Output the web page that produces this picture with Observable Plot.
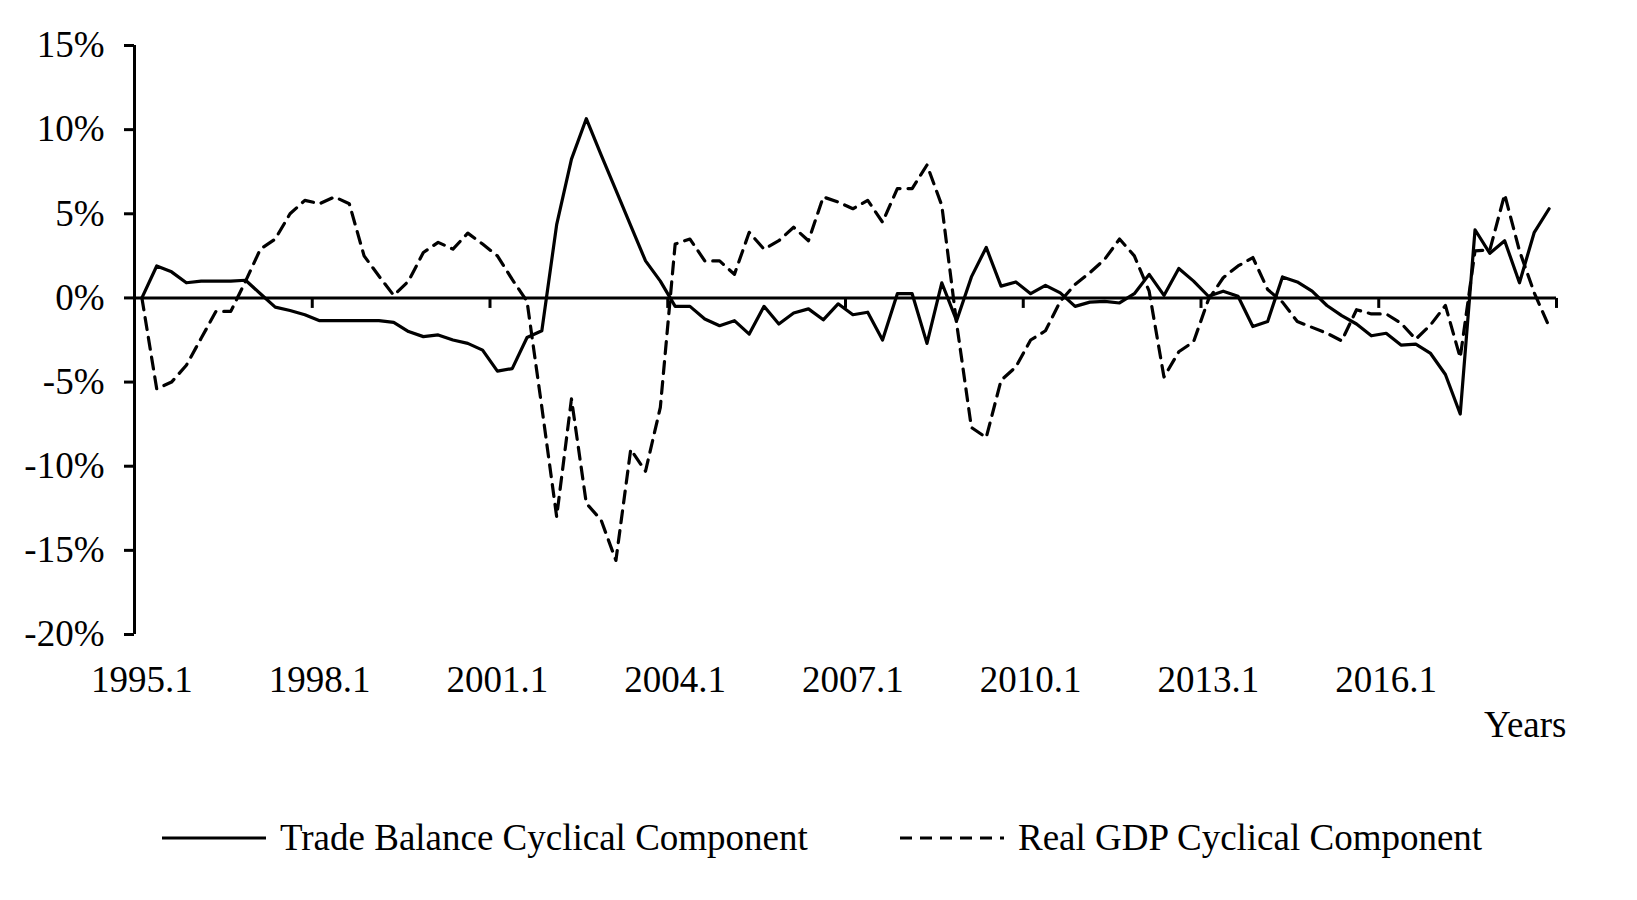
<!DOCTYPE html>
<html>
<head>
<meta charset="utf-8">
<script src="https://cdn.jsdelivr.net/npm/d3@7"></script>
<script src="https://cdn.jsdelivr.net/npm/@observablehq/plot@0.6"></script>
<style>
  body { margin: 0; background: #fff; }
  #wrap { position: relative; width: 1637px; height: 900px; background: #fff;
          font-family: "Liberation Serif", "Times New Roman", serif; color: #000; }
  #chart svg { display: block; }
  .leg-text { position: absolute; font-size: 37px; line-height: 44px; white-space: nowrap; }
  #legsvg { position: absolute; left: 0; top: 818px; }
</style>
</head>
<body>
<div id="wrap">
  <div id="chart"></div>
  <svg id="legsvg" width="1637" height="40"></svg>
  <div class="leg-text" id="leg1" style="left:280px; top:816px;"></div>
  <div class="leg-text" id="leg2" style="left:1018px; top:816px;"></div>
</div>
<script>
// ---- data ----
const firstYear = 1995;
const lastYear = 2018;
const quarters = [];
for (let y = firstYear; y <= lastYear; y++) for (let q = 1; q <= 4; q++) quarters.push(`${y}.${q}`);

const tickLabels = ["1995.1", "1998.1", "2001.1", "2004.1", "2007.1", "2010.1", "2013.1", "2016.1"];
const yTicks = [0.15, 0.10, 0.05, 0, -0.05, -0.10, -0.15, -0.20];
const seriesNames = ["Trade Balance Cyclical Component", "Real GDP Cyclical Component"];
const xTitle = "Years";

// Trade balance cyclical component (%)
const tradeBalance = [
  0, 1.9, 1.55, 0.9, 1.0, 1.0, 1.0, 1.05, 0.25, -0.55,
  -0.75, -1.0, -1.35, -1.35, -1.35, -1.35, -1.35, -1.45, -2.0, -2.3,
  -2.2, -2.5, -2.7, -3.1, -4.35, -4.2, -2.35, -1.95, 4.35, 8.25,
  10.65, 8.5, 6.4, 4.3, 2.2, 1.0, -0.5, -0.5, -1.25, -1.65,
  -1.35, -2.15, -0.5, -1.55, -0.9, -0.65, -1.3, -0.35, -1.0, -0.85,
  -2.5, 0.25, 0.25, -2.7, 0.9, -1.35, 1.25, 3.0, 0.7, 0.95,
  0.25, 0.75, 0.3, -0.5, -0.25, -0.2, -0.3, 0.25, 1.4, 0.15,
  1.75, 1.0, 0.1, 0.4, 0.1, -1.7, -1.4, 1.25, 0.95, 0.4,
  -0.45, -1.05, -1.55, -2.25, -2.1, -2.8, -2.75, -3.3, -4.55, -6.9,
  4.05, 2.65, 3.4, 0.9, 3.9, 5.3
];

// Real GDP cyclical component (%)
const realGDP = [
  0, -5.4, -5.0, -4.0, -2.4, -0.8, -0.8, 1.0, 2.9, 3.5,
  5.0, 5.8, 5.6, 6.0, 5.6, 2.5, 1.3, 0.15, 1.0, 2.7,
  3.3, 2.9, 3.85, 3.2, 2.5, 1.1, -0.2, -6.5, -13.0, -6.0,
  -12.2, -13.2, -15.6, -9.0, -10.3, -6.5, 3.2, 3.5, 2.2, 2.2,
  1.4, 3.9, 2.9, 3.4, 4.2, 3.4, 6.0, 5.7, 5.3, 5.8,
  4.5, 6.5, 6.5, 7.9, 5.5, -1.5, -7.7, -8.3, -4.9, -4.1,
  -2.5, -1.95, -0.2, 0.8, 1.5, 2.3, 3.5, 2.5, 0.4, -4.7,
  -3.2, -2.6, -0.1, 1.2, 1.9, 2.4, 0.5, -0.25, -1.4, -1.75,
  -2.1, -2.55, -0.7, -0.95, -0.95, -1.5, -2.45, -1.6, -0.45, -3.55,
  2.8, 2.85, 6.15, 2.8, 0.3, -1.7
];

// ---- build ----
const rows = quarters.map((q, i) => ({ i, q, tb: tradeBalance[i] / 100, gdp: realGDP[i] / 100 }));
const center = (i) => i + 0.5; // category centre on a category axis
const labelPos = tickLabels.map(l => center(quarters.indexOf(l)));
const boundaryTicks = d3.range(12, quarters.length + 1, 12);
const pctFmt = d => Math.round(d * 100) + "%";

const LW = 3.2;
const AW = 3;
const DASH = "12,8";
const TICK_LEN = 10;

// a downward tick-mark symbol for category boundaries on the x axis
const downTick = { draw(ctx) { ctx.moveTo(0, 0); ctx.lineTo(0, TICK_LEN); } };

const chart = Plot.plot({
  width: 1637,
  height: 760,
  marginLeft: 134,
  marginRight: 81,
  marginTop: 45,
  marginBottom: 126,
  style: { fontFamily: "'Liberation Serif', 'Times New Roman', serif", fontSize: "37px", color: "#000", background: "#fff" },
  x: { type: "linear", domain: [0, quarters.length], axis: null },
  y: { domain: [-0.2, 0.15], axis: null },
  marks: [
    Plot.axisY(yTicks, { tickSize: 10, tickPadding: 20, tickFormat: pctFmt, strokeWidth: AW, label: null }),
    Plot.axisX(labelPos, { tickSize: 0, tickPadding: 31, tickFormat: d => quarters[d - 0.5], label: null }),
    Plot.ruleX([0], { stroke: "#000", strokeWidth: AW }),
    Plot.ruleY([0], { stroke: "#000", strokeWidth: AW }),
    Plot.dot(boundaryTicks, { x: d => d, y: () => 0, symbol: downTick, r: 5, fill: "none", stroke: "#000", strokeWidth: AW }),
    Plot.line(rows, { x: d => center(d.i), y: "gdp", stroke: "#000", strokeWidth: LW, strokeDasharray: DASH }),
    Plot.line(rows, { x: d => center(d.i), y: "tb", stroke: "#000", strokeWidth: LW }),
    Plot.text([xTitle], { frameAnchor: "bottom-right", dx: 10, dy: 102, textAnchor: "end", fill: "#000" })
  ]
});
document.getElementById("chart").appendChild(chart);

// ---- legend ----
const leg = d3.select("#legsvg");
leg.append("line").attr("x1", 162).attr("x2", 266).attr("y1", 20).attr("y2", 20)
  .attr("stroke", "#000").attr("stroke-width", LW);
leg.append("line").attr("x1", 900).attr("x2", 1004).attr("y1", 20).attr("y2", 20)
  .attr("stroke", "#000").attr("stroke-width", LW).attr("stroke-dasharray", DASH);
document.getElementById("leg1").textContent = seriesNames[0];
document.getElementById("leg2").textContent = seriesNames[1];
</script>
</body>
</html>
